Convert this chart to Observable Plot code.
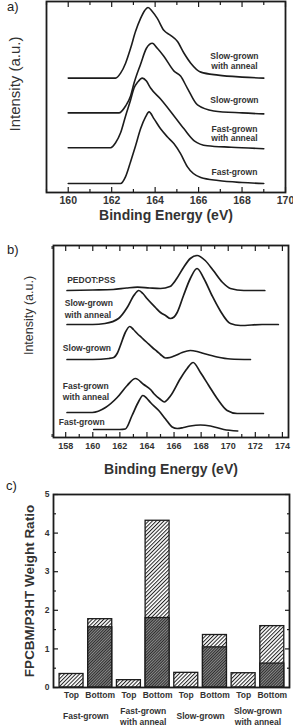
<!DOCTYPE html>
<html>
<head>
<meta charset="utf-8">
<script src="https://cdn.jsdelivr.net/npm/d3@7"></script>
<script src="https://cdn.jsdelivr.net/npm/@observablehq/plot@0.6"></script>
<style>
  body { margin: 0; background: #fff; }
  #wrap { position: relative; width: 293px; height: 726px; overflow: hidden; font-family: "Liberation Sans", Arial, sans-serif; }
  .panel { position: absolute; left: 0; }
  .tag { position: absolute; font-size: 13px; line-height: 13px; color: #222; }
</style>
</head>
<body>
<div id="wrap"></div>
<script>
// ---------- (a) S 2p spectra of the films ----------
const aSamples = ["Fast-grown", "Fast-grown with anneal", "Slow-grown", "Slow-grown with anneal"];
const aOffsets = [9, 45, 80, 115];
const aEnergy = [
  [160, 161, 162.41, 162.64, 162.87, 163.1, 163.33, 163.56, 163.72, 163.95, 164.25, 164.56, 164.87, 165.17, 165.48, 166.1, 166.9, 168, 169],
  [160, 161, 161.95, 162.18, 162.41, 162.64, 162.87, 163.03, 163.2, 163.41, 163.6, 163.79, 164.25, 164.87, 165.33, 165.8, 166.4, 167.5, 169],
  [160, 161, 162.33, 162.64, 162.87, 163.03, 163.33, 163.6, 163.87, 164.1, 164.4, 164.87, 165.17, 165.48, 165.95, 166.7, 168, 169],
  [160, 161, 162.18, 162.41, 162.64, 162.87, 163.1, 163.33, 163.52, 163.67, 163.87, 164.1, 164.4, 164.71, 165.02, 165.33, 165.64, 166.1, 166.9, 168, 169]
];
const aIntensity = [
  [0, 0, 0, 7, 22, 38, 55, 67, 72, 65, 55, 47, 40, 30, 17, 6, 3, 1, 0],
  [0, 0, 0, 5, 15, 32, 48, 60, 66, 70, 67, 60, 49, 32, 19, 7, 2, 0.5, -1],
  [0, 0, 0, 7, 17, 30, 49, 65, 70, 65, 57, 42, 37, 25, 8, 2, 0, -1],
  [0, 0, 0, 5, 15, 30, 47, 60, 68, 71, 67, 60, 48, 43, 37, 25, 15, 6, 3, 1, 0]
];
const aMajorTicks = [160, 162, 164, 166, 168, 170];
const aMinorTicks = [159, 161, 163, 165, 167, 169];
const aLabels = [
  {text: "Fast-grown", energy: 167.65, intensity: 21},
  {text: "Fast-grown\nwith anneal", energy: 167.65, intensity: 59.5},
  {text: "Slow-grown", energy: 167.65, intensity: 93},
  {text: "Slow-grown\nwith anneal", energy: 167.65, intensity: 132.5}
];

// ---------- (b) S 2p spectra including the PEDOT:PSS reference ----------
const bSamples = ["Fast-grown", "Fast-grown with anneal", "Slow-grown", "Slow-grown with anneal", "PEDOT:PSS"];
const bOffsets = [8, 25, 78, 113, 147];
const bEnergy = [
  [160.07, 162.0, 162.4, 162.9, 163.35, 163.7, 164.0, 164.26, 164.87, 165.37, 165.86, 166.23, 166.7, 167.2, 167.95, 168.69, 169.67, 170.7],
  [158.1, 159.96, 160.94, 161.8, 162.54, 163.15, 163.76, 164.26, 164.5, 165.0, 165.28, 165.73, 166.47, 166.97, 167.41, 167.95, 168.56, 169.18, 169.92, 170.66, 172.6],
  [158.1, 160, 161.2, 161.55, 161.8, 162.04, 162.4, 162.73, 163.0, 163.28, 163.6, 164.0, 164.4, 164.75, 165.0, 165.37, 165.7, 166.1, 166.6, 167.2, 167.7, 168.2, 169.18, 170.16, 171.64],
  [158.1, 160, 160.9, 161.9, 162.54, 163.03, 163.4, 163.7, 164.0, 164.63, 165.0, 165.37, 165.73, 166.0, 166.23, 166.7, 167.2, 167.7, 168.2, 168.8, 169.4, 170.16, 170.9, 172.5, 173.7],
  [158.1, 160, 161.5, 162.5, 163.3, 164.2, 165, 165.7, 166.2, 166.7, 167.2, 167.7, 168.3, 168.9, 169.55, 170.16, 171.15, 172.7]
];
const bIntensity = [
  [0, 0, 0.5, 14, 27, 34, 31, 27, 19, 10.5, 2.5, 1, 2, 3.5, 4.5, 3.5, 0, -1.5],
  [0, 0, 5, 15, 27, 34, 28, 23, 19, 13, 10.5, 16.5, 34, 44, 50, 40, 27, 14, 2, -1, -1],
  [0, 0, 1, 2, 6, 14, 27, 33, 30, 26, 22, 17, 12, 8, 5, 1.5, 2, 4, 7, 9, 8, 6, 2.5, 0.5, 0],
  [0, 0, 1, 6, 17, 29, 34, 31, 26, 17, 12, 9, 6, 7.5, 12, 29, 46, 56, 46, 29, 14, 1, -1, 0, 0],
  [0, 0.5, 1, 2.5, 3.3, 2.5, 2, 4, 12, 23, 32, 35, 30, 20, 8.5, 2, 0, 0]
];
const bMajorTicks = [158, 160, 162, 164, 166, 168, 170, 172, 174];
const bMinorTicks = [157, 159, 161, 163, 165, 167, 169, 171, 173];
const bLabels = [
  {text: "Fast-grown", energy: 157.49, intensity: 16},
  {text: "Fast-grown\nwith anneal", energy: 157.79, intensity: 46.8},
  {text: "Slow-grown", energy: 157.79, intensity: 90.3},
  {text: "Slow-grown\nwith anneal", energy: 157.93, intensity: 129.5},
  {text: "PEDOT:PSS", energy: 158.11, intensity: 158}
];

// ---------- (c) FPCBM/P3HT weight ratio at top and bottom surfaces ----------
const cPositions = ["Top", "Bottom", "Top", "Bottom", "Top", "Bottom", "Top", "Bottom"];
const cGroups = ["Fast-grown", "Fast-grown\nwith anneal", "Slow-grown", "Slow-grown\nwith anneal"];
const cTotal = [0.35, 1.77, 0.19, 4.32, 0.38, 1.36, 0.37, 1.59];
const cLower = [0, 1.56, 0, 1.80, 0, 1.04, 0, 0.62];
const cYTicks = [0, 1, 2, 3, 4, 5];
const cYMinor = [0.5, 1.5, 2.5, 3.5, 4.5];

// ---------- shared styling ----------
const W = 293;
const INK = "#1c1c1c";
const TXT = "#333";
const baseStyle = {fontFamily: "'Liberation Sans', Arial, sans-serif", color: INK, background: "transparent", overflow: "visible"};

function spectraRows(samples, offsets, energy, intensity) {
  return samples.flatMap((s, k) => energy[k].map((e, j) => ({sample: s, energy: e, intensity: offsets[k] + intensity[k][j]})));
}

function insideTicksX(major, minor) {
  return [
    Plot.axisX({ticks: major, tickSize: -5, fill: "none", label: null, strokeWidth: 1.2}),
    Plot.axisX({ticks: minor, tickSize: -3, fill: "none", label: null, strokeWidth: 1.2}),
    Plot.axisX({anchor: "top", ticks: major, tickSize: -5, fill: "none", label: null, strokeWidth: 1.2}),
    Plot.axisX({anchor: "top", ticks: minor, tickSize: -3, fill: "none", label: null, strokeWidth: 1.2})
  ];
}

// axis titles drawn as free text at the frame edges
function bottomTitle(text, dy, fontSize) {
  return Plot.text([text], {frameAnchor: "bottom", textAnchor: "middle", lineAnchor: "middle", dy, fontSize, fontWeight: "bold", fill: TXT});
}
function leftTitle(text, dx, dy, fontSize, fontWeight) {
  return Plot.text([text], {frameAnchor: "left", textAnchor: "middle", lineAnchor: "middle", dx, dy, rotate: -90, fontSize, fontWeight, fill: TXT});
}

const wrap = document.getElementById("wrap");
function place(el, top) {
  el.classList.add("panel");
  el.style.top = top + "px";
  wrap.appendChild(el);
}
function tag(text, left, top) {
  const d = document.createElement("div");
  d.className = "tag";
  d.textContent = text;
  d.style.left = left + "px";
  d.style.top = top + "px";
  wrap.appendChild(d);
}

// Panel a
const plotA = Plot.plot({
  width: W, height: 232,
  marginTop: 1, marginBottom: 40, marginLeft: 46, marginRight: 8,
  style: baseStyle,
  x: {domain: [159, 170]},
  y: {domain: [0, 192], axis: null},
  marks: [
    Plot.line(spectraRows(aSamples, aOffsets, aEnergy, aIntensity), {x: "energy", y: "intensity", z: "sample", stroke: INK, strokeWidth: 1.6, curve: "monotone-x"}),
    Plot.text(aLabels, {x: "energy", y: "intensity", text: "text", fontSize: 8.5, fontWeight: "bold", fill: TXT, lineHeight: 1.12}),
    Plot.frame({stroke: INK, strokeWidth: 1.8}),
    ...insideTicksX(aMajorTicks, aMinorTicks),
    Plot.axisX({ticks: aMajorTicks, tickSize: 0, tickPadding: 4, fontSize: 10.5, fontWeight: "bold", fill: TXT, label: null}),
    bottomTitle("Binding Energy (eV)", 23.5, 14),
    leftTitle("Intensity (a.u.)", -31, -13, 15, "normal")
  ]
});
place(plotA, 0);

// Panel b
const plotB = Plot.plot({
  width: W, height: 246,
  marginTop: 13, marginBottom: 41, marginLeft: 53, marginRight: 5,
  style: baseStyle,
  x: {domain: [157.1, 174.45]},
  y: {domain: [0, 192], axis: null},
  marks: [
    Plot.line(spectraRows(bSamples, bOffsets, bEnergy, bIntensity), {x: "energy", y: "intensity", z: "sample", stroke: INK, strokeWidth: 1.7, curve: "monotone-x"}),
    Plot.text(bLabels, {x: "energy", y: "intensity", text: "text", textAnchor: "start", fontSize: 8.5, fontWeight: "bold", fill: TXT, lineHeight: 1.37}),
    Plot.frame({stroke: INK, strokeWidth: 1.8}),
    ...insideTicksX(bMajorTicks, bMinorTicks),
    Plot.axisX({ticks: bMajorTicks, tickSize: 0, tickPadding: 5, fontSize: 9, fontWeight: "bold", fill: TXT, label: null}),
    bottomTitle("Binding Energy (eV)", 32, 14),
    leftTitle("Intensity (a.u.)", -24.5, -26, 12.5, "normal")
  ]
});
place(plotB, 232);

// Panel c
const bars = cTotal.map((v, i) => ({slot: i, position: cPositions[i], total: v, lower: cLower[i]}));
const plotC = Plot.plot({
  width: W, height: 248,
  marginTop: 16, marginBottom: 39, marginLeft: 53, marginRight: 4,
  style: baseStyle,
  x: {domain: [-0.13, 8.1]},
  y: {domain: [0, 5]},
  marks: [
    Plot.rect(bars, {x1: d => d.slot + 0.082, x2: d => d.slot + 0.918, y1: 0, y2: "total", fill: "url(#hatchLight)", stroke: INK, strokeWidth: 1.3}),
    Plot.rect(bars.filter(d => d.lower > 0), {x1: d => d.slot + 0.082, x2: d => d.slot + 0.918, y1: 0, y2: "lower", fill: "url(#hatchDark)", stroke: INK, strokeWidth: 1.3}),
    Plot.frame({stroke: INK, strokeWidth: 1.8}),
    Plot.axisY({ticks: cYTicks, tickSize: -5, fill: "none", label: null, strokeWidth: 1.2}),
    Plot.axisY({ticks: cYMinor, tickSize: -3, fill: "none", label: null, strokeWidth: 1.2}),
    Plot.axisY({anchor: "right", ticks: cYTicks, tickSize: -5, fill: "none", label: null, strokeWidth: 1.2}),
    Plot.axisY({anchor: "right", ticks: cYMinor, tickSize: -3, fill: "none", label: null, strokeWidth: 1.2}),
    Plot.axisY({ticks: cYTicks, tickSize: 0, tickPadding: 4, tickFormat: d => String(d), fontSize: 8.5, fontWeight: "bold", fill: TXT, label: null}),
    Plot.axisX({ticks: [], label: null}),
    Plot.text(bars, {x: d => d.slot + 0.5, text: "position", frameAnchor: "bottom", lineAnchor: "middle", dy: 8, fontSize: 8.5, fontWeight: "bold", fill: TXT}),
    Plot.text(cGroups, {x: (d, i) => 2 * i + 1, text: d => d, frameAnchor: "bottom", lineAnchor: "middle", dy: 28.5, fontSize: 8.5, fontWeight: "bold", fill: TXT, lineHeight: 1.22}),
    leftTitle("FPCBM/P3HT Weight Ratio", -24, 0, 13.5, "bold")
  ]
});
// hatch fills used by the bars
const defs = d3.select(plotC).insert("defs", ":first-child");
const light = defs.append("pattern").attr("id", "hatchLight").attr("patternUnits", "userSpaceOnUse")
  .attr("width", 2.7).attr("height", 2.7).attr("patternTransform", "rotate(45)");
light.append("rect").attr("width", 2.7).attr("height", 2.7).attr("fill", "#fff");
light.append("rect").attr("width", 1.0).attr("height", 2.7).attr("fill", "#222");
const dark = defs.append("pattern").attr("id", "hatchDark").attr("patternUnits", "userSpaceOnUse")
  .attr("width", 2).attr("height", 2).attr("patternTransform", "rotate(45)");
dark.append("rect").attr("width", 2).attr("height", 2).attr("fill", "#8a8a8a");
dark.append("rect").attr("width", 1.0).attr("height", 2).attr("fill", "#2e2e2e");
place(plotC, 478);

tag("a)", 7, 0);
tag("b)", 7, 243);
tag("c)", 6, 479);
</script>
</body>
</html>
